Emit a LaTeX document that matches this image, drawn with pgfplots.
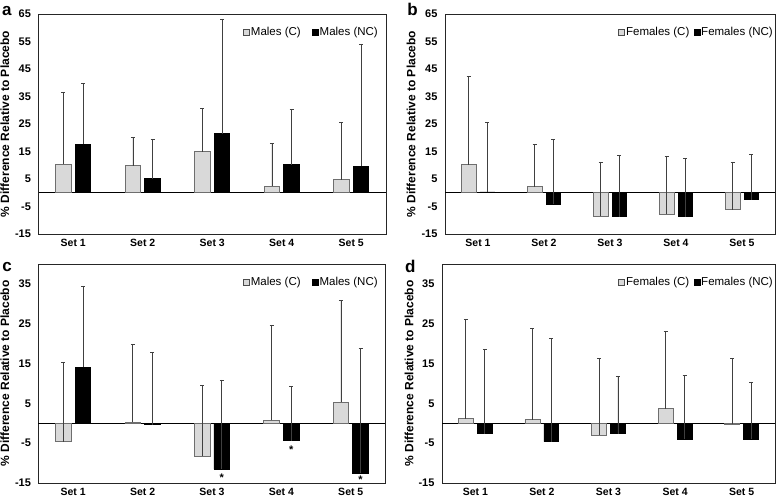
\documentclass[border=0pt]{standalone}
\usepackage{pgfplots}
\pgfplotsset{compat=1.18}
\usepackage{fontspec}
\setmainfont{Liberation Sans}
\definecolor{cfill}{RGB}{217,217,217}
\definecolor{cdraw}{RGB}{110,110,110}
\pgfplotsset{
  panel/.style={
    scale only axis,
    anchor=south west,
    ybar=4pt, bar width=0.225,
    xmin=-0.5, xmax=4.5,
    xtick={0,1,2,3,4},
    xticklabels={Set 1,Set 2,Set 3,Set 4,Set 5},
    major tick length=0pt,
    /pgf/number format/assume math mode=true,
    yticklabel style={font=\bfseries\fontsize{11}{11}\selectfont, xshift=-4pt},
    xticklabel style={font=\bfseries\fontsize{10.5}{10.5}\selectfont, yshift=-2pt},
    axis line style={black!85, line width=0.8pt},
    ylabel={\% Difference Relative to Placebo},
    ylabel style={font=\bfseries\fontsize{12}{12}\selectfont, at={(axis description cs:-0.097,0.5)}, anchor=center},
    extra y ticks={0}, extra y tick labels={},
    extra y tick style={grid=major, major grid style={black, line width=0.8pt}},
    clip=false,
    legend columns=2,
    legend cell align=left,
    legend style={draw=none, fill=none, inner sep=0pt, outer sep=0pt, anchor=east,
      font=\fontsize{11.5}{11.5}\selectfont, nodes={inner sep=1.2pt}},
  },
  errs/.style={
    error bars/y dir=plus,
    error bars/y explicit,
    error bars/error mark=|,
    error bars/error bar style={line width=0.7pt, black!75},
    error bars/error mark options={line width=0.7pt, black!75, mark size=2pt},
  },
  cbar/.style={fill=cfill, draw=cdraw, line width=0.8pt, errs,
    legend image code/.code={\draw[fill=cfill, draw=black!70, line width=0.5pt] (0pt,-3pt) rectangle (6pt,3pt);}},
  ncbar/.style={fill=black, draw=black, line width=0.8pt, errs,
    legend image code/.code={\draw[fill=black, draw=black, line width=0.5pt] (0pt,-3pt) rectangle (6pt,3pt);}},
}
\begin{document}
\begin{tikzpicture}
\useasboundingbox (0pt,0pt) rectangle (779pt,500pt);
% ---------- a ----------
\begin{axis}[panel, at={(38.5pt,266pt)}, width=347.5pt, height=220pt,
  ymin=-15, ymax=65, ytick={-15,-5,5,15,25,35,45,55,65},
  legend style={at={(axis description cs:0.98,0.918)}, /tikz/every even column/.append style={column sep=10pt}}]
\addplot[cbar] coordinates {(0,10.3) +- (0,26.1) (1,9.8) +- (0,10.2) (2,14.9) +- (0,15.7) (3,2.3) +- (0,15.5) (4,4.7) +- (0,20.8)};
\addplot[ncbar] coordinates {(0,17.7) +- (0,22.0) (1,5.1) +- (0,14.2) (2,21.5) +- (0,41.7) (3,10.2) +- (0,20.0) (4,9.7) +- (0,44.4)};
\legend{Males (C),Males (NC)}
\node[anchor=base west, font=\bfseries\fontsize{17}{17}\selectfont, inner sep=0pt] at (axis description cs:-0.105,0.995) {a};
\end{axis}
% ---------- b ----------
\begin{axis}[panel, at={(445pt,266pt)}, width=330pt, height=220pt,
  ymin=-15, ymax=65, ytick={-15,-5,5,15,25,35,45,55,65},
  ylabel style={at={(axis description cs:-0.103,0.5)}},
  legend style={at={(axis description cs:0.997,0.918)}, /tikz/every even column/.append style={column sep=3pt}}]
\addplot[cbar] coordinates {(0,10.2) +- (0,32.2) (1,2.2) +- (0,15.4) (2,-8.5) +- (0,19.7) (3,-7.8) +- (0,21.0) (4,-6.2) +- (0,17.4)};
\addplot[ncbar] coordinates {(0,0.3) +- (0,25.3) (1,-4.1) +- (0,23.6) (2,-8.7) +- (0,22.4) (3,-8.7) +- (0,21.1) (4,-2.5) +- (0,16.5)};
\legend{Females (C),Females (NC)}
\node[anchor=base west, font=\bfseries\fontsize{17}{17}\selectfont, inner sep=0pt] at (axis description cs:-0.115,0.995) {b};
\end{axis}
% ---------- c ----------
\begin{axis}[panel, at={(38.5pt,17pt)}, width=347pt, height=219pt,
  ymin=-15, ymax=40, ytick={-15,-5,5,15,25,35},
  legend style={at={(axis description cs:0.981,0.918)}, /tikz/every even column/.append style={column sep=10pt}}]
\addplot[cbar] coordinates {(0,-4.6) +- (0,19.8) (1,0.2) +- (0,19.6) (2,-8.2) +- (0,17.8) (3,0.7) +- (0,24.0) (4,5.25) +- (0,25.65)};
\addplot[ncbar] coordinates {(0,14.1) +- (0,20.2) (1,-0.4) +- (0,18.2) (2,-11.5) +- (0,22.4) (3,-4.4) +- (0,13.65) (4,-12.5) +- (0,31.2)};
\legend{Males (C),Males (NC)}
\node[font=\bfseries\fontsize{11}{11}\selectfont] at (axis cs:2.141,-13.6) {*};
\node[font=\bfseries\fontsize{11}{11}\selectfont] at (axis cs:3.141,-6.6) {*};
\node[font=\bfseries\fontsize{11}{11}\selectfont] at (axis cs:4.141,-14.1) {*};
\node[anchor=base west, font=\bfseries\fontsize{17}{17}\selectfont, inner sep=0pt] at (axis description cs:-0.105,0.968) {c};
\end{axis}
% ---------- d ----------
\begin{axis}[panel, at={(442pt,17pt)}, width=333pt, height=219pt,
  ymin=-15, ymax=40, ytick={-15,-5,5,15,25,35},
  ylabel style={at={(axis description cs:-0.099,0.5)}},
  legend style={at={(axis description cs:0.997,0.918)}, /tikz/every even column/.append style={column sep=3pt}}]
\addplot[cbar] coordinates {(0,1.1) +- (0,24.9) (1,0.9) +- (0,22.85) (2,-3.0) +- (0,19.2) (3,3.7) +- (0,19.4) (4,-0.3) +- (0,16.5)};
\addplot[ncbar] coordinates {(0,-2.6) +- (0,21.1) (1,-4.6) +- (0,26.0) (2,-2.6) +- (0,14.5) (3,-4.0) +- (0,16.1) (4,-4.0) +- (0,14.4)};
\legend{Females (C),Females (NC)}
\node[anchor=base west, font=\bfseries\fontsize{17}{17}\selectfont, inner sep=0pt] at (axis description cs:-0.111,0.959) {d};
\end{axis}
\end{tikzpicture}
\end{document}
